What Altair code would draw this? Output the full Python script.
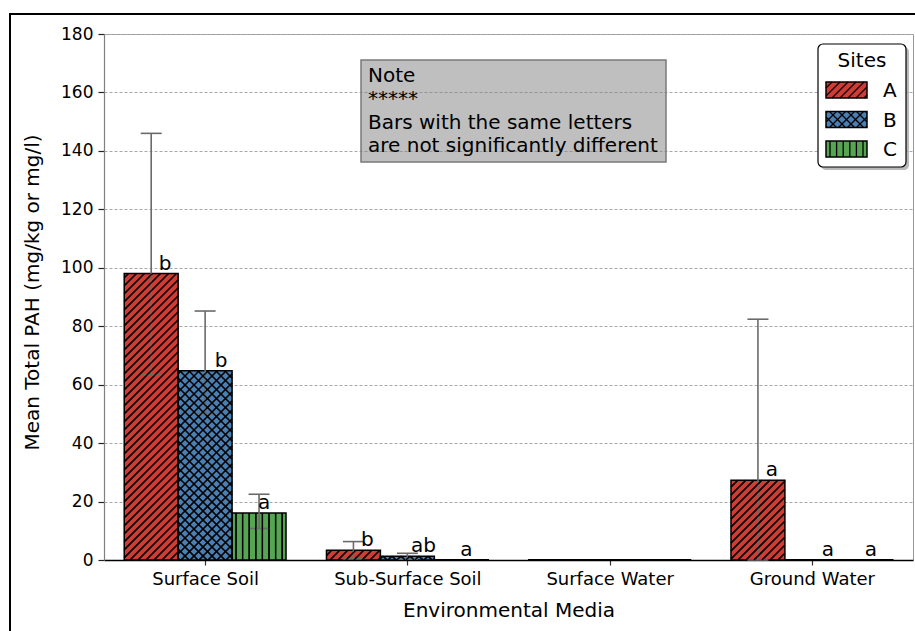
import json
import math

import altair as alt
import pandas as pd

# ---------------------------------------------------------------- data
categories = ["Surface Soil", "Sub-Surface Soil", "Surface Water", "Ground Water"]
sites = ["A", "B", "C"]

# mean total PAH (mg/kg or mg/l), one list per site, in category order
mean_a = [98.0, 3.3, 0.05, 27.3]
mean_b = [64.8, 1.3, 0.05, 0.08]
mean_c = [16.1, 0.1, 0.05, 0.08]

# error bar extents (None where no error bar is drawn)
low_a = [63.3, 0.4, None, 0.0]
high_a = [146.0, 6.3, None, 82.4]
low_b = [50.0, 0.3, None, None]
high_b = [85.2, 2.3, None, None]
low_c = [10.8, None, None, None]
high_c = [22.5, None, None, None]

# significance letters
letters_a = ["b", "b", "", "a"]
letters_b = ["b", "ab", "", "a"]
letters_c = ["a", "a", "", "a"]

site_colors = ["#d13b36", "#4a7fb3", "#56a553"]
site_hatch = ["/", "x", "|"]

note_lines = ["Note", "*****", "Bars with the same letters",
              "are not significantly different"]

# ---------------------------------------------------------------- layout
W, H = 809, 526
Y_MAX = 180
PX_X = W / len(categories)      # pixels per category unit
PX_Y = H / Y_MAX                 # pixels per value unit
GROUP = 0.8
BAR = GROUP / len(sites)
CAP = 10.5                       # half width of error caps, px
FONT = "DejaVu Sans"


def to_px_x(d):
    return (d + 0.5) * PX_X


def to_px_y(v):
    return H - v * PX_Y


def from_px_x(px):
    return px / PX_X - 0.5


def from_px_y(py):
    return (H - py) / PX_Y


def hatch_segments(x0, x1, y0, y1, kind):
    """Hatch lines clipped to a pixel rectangle (y grows downward)."""
    segs = []
    if kind in ("/", "x"):
        step = 8.0 if kind == "/" else 9.0
        for k in range(math.floor((x0 + y0) / step), math.ceil((x1 + y1) / step) + 1):
            c = k * step
            xa, xb = max(x0, c - y1), min(x1, c - y0)
            if xb - xa > 0.4:
                segs.append((xa, c - xa, xb, c - xb))
    if kind == "x":
        step = 9.0
        for k in range(math.floor((x0 - y1) / step), math.ceil((x1 - y0) / step) + 1):
            c = k * step
            xa, xb = max(x0, y0 + c), min(x1, y1 + c)
            if xb - xa > 0.4:
                segs.append((xa, xa - c, xb, xb - c))
    if kind == "|":
        step = 6.6
        for k in range(math.ceil(x0 / step), math.floor(x1 / step) + 1):
            X = k * step
            if x0 + 0.8 < X < x1 - 0.8 and y1 - y0 > 0.5:
                segs.append((X, y0, X, y1))
    return segs


means = [mean_a, mean_b, mean_c]
lows = [low_a, low_b, low_c]
highs = [high_a, high_b, high_c]
letters = [letters_a, letters_b, letters_c]
letter_dx = {"A": 14, "B": 16, "C": 5}

bar_rows, err_rows, txt_rows = [], [], []
for ci, cat in enumerate(categories):
    for si, site in enumerate(sites):
        left = ci - GROUP / 2 + si * BAR
        right = left + BAR
        xc = (left + right) / 2
        v = means[si][ci]
        bar_rows.append(dict(site=site, x0=left, x1=right, top=v, base=0.0))
        lo, hi = lows[si][ci], highs[si][ci]
        if lo is not None and hi is not None:
            err_rows.append(dict(xc=xc, lo=lo, hi=hi,
                                 cl=xc - CAP / PX_X, cr=xc + CAP / PX_X))
        if letters[si][ci]:
            txt_rows.append(dict(x=xc + letter_dx[site] / PX_X, y=v,
                                 t=letters[si][ci]))

# legend swatches live in the same coordinate system as the bars
LEG_X0, LEG_X1 = 722, 763
leg_centres = [56, 85.5, 115]
leg_rows, leg_txt = [], []
for si, site in enumerate(sites):
    yc = leg_centres[si]
    leg_rows.append(dict(site=site, x0=from_px_x(LEG_X0), x1=from_px_x(LEG_X1),
                         top=from_px_y(yc - 8), base=from_px_y(yc + 8)))
    leg_txt.append(dict(x=from_px_x(779), y=from_px_y(yc + 7.2), t=site))

rects = pd.DataFrame(bar_rows + leg_rows)

hatch_rows = []
for r in rects.itertuples():
    kind = site_hatch[sites.index(r.site)]
    for xa, ya, xb, yb in hatch_segments(to_px_x(r.x0), to_px_x(r.x1),
                                         to_px_y(r.top), to_px_y(r.base), kind):
        hatch_rows.append(dict(xa=from_px_x(xa), ya=from_px_y(ya),
                               xb=from_px_x(xb), yb=from_px_y(yb)))
hatch = pd.DataFrame(hatch_rows)
errs = pd.DataFrame(err_rows)
labels = pd.DataFrame(txt_rows)
legend_labels = pd.DataFrame(leg_txt)

# ---------------------------------------------------------------- scales / axes
x_scale = alt.Scale(domain=[-0.5, len(categories) - 0.5], nice=False, zero=False)
y_scale = alt.Scale(domain=[0, Y_MAX], nice=False)
x_axis = alt.Axis(
    title="Environmental Media", values=list(range(len(categories))),
    labelExpr=f"{json.dumps(categories)}[datum.value]", grid=False,
    tickSize=5, tickColor="#333333", tickWidth=1.2,
    labelFontSize=18, labelPadding=5, labelFlush=False, labelOverlap=False,
    domainColor="black", domainWidth=1.3, titleFontSize=20, titlePadding=12,
)
y_axis = alt.Axis(
    title="Mean Total PAH (mg/kg or mg/l)", values=list(range(0, Y_MAX + 1, 20)),
    grid=True, gridDash=[3, 2], gridColor="#a8a8a8", gridWidth=1,
    tickSize=6, tickColor="#222222", tickWidth=1.2, labelFontSize=17,
    labelPadding=5, domainColor="#808080", domainWidth=1.2,
    titleFontSize=20, titleX=-66, titleY=258, titleBaseline="alphabetic",
)


def X(field):
    return alt.X(field, type="quantitative", scale=x_scale, axis=x_axis)


def Y(field):
    return alt.Y(field, type="quantitative", scale=y_scale, axis=y_axis)


color = alt.Color("site:N", scale=alt.Scale(domain=sites, range=site_colors),
                  legend=None)

# ---------------------------------------------------------------- layers
frame = alt.Chart(pd.DataFrame({"k": [0]})).mark_rect(
    fillOpacity=0, stroke="black", strokeWidth=2
).encode(x=alt.value(-94), x2=alt.value(860), y=alt.value(-20), y2=alt.value(700))

fills = alt.Chart(rects).mark_rect().encode(
    x=X("x0"), x2="x1", y=Y("top"), y2="base", color=color)

hatches = alt.Chart(hatch).mark_rule(color="black", strokeWidth=1.3).encode(
    x=X("xa"), x2="xb", y=Y("ya"), y2="yb")

outlines = alt.Chart(rects).mark_rect(
    fillOpacity=0, stroke="black", strokeWidth=1.5).encode(
    x=X("x0"), x2="x1", y=Y("top"), y2="base")

err_color = "#6a6a6a"
err_line = alt.Chart(errs).mark_rule(color=err_color, strokeWidth=1.6).encode(
    x=X("xc"), y=Y("lo"), y2="hi")
err_top = alt.Chart(errs).mark_rule(color=err_color, strokeWidth=1.6).encode(
    x=X("cl"), x2="cr", y=Y("hi"))
err_bot = alt.Chart(errs).mark_rule(color=err_color, strokeWidth=1.6).encode(
    x=X("cl"), x2="cr", y=Y("lo"))

letter_text = alt.Chart(labels).mark_text(
    font=FONT, fontSize=20, color="black", align="center",
    baseline="alphabetic", dy=-4).encode(x=X("x"), y=Y("y"), text="t:N")

note_box = alt.Chart(pd.DataFrame({"k": [0]})).mark_rect(
    fill="#808080", fillOpacity=0.5, stroke="#7a7a7a", strokeWidth=1.5
).encode(x=alt.value(257), x2=alt.value(562), y=alt.value(26), y2=alt.value(128))
note_text = alt.Chart(pd.DataFrame({"k": [0]})).mark_text(
    text=note_lines, font=FONT, fontSize=20, lineHeight=23.3, align="left",
    baseline="alphabetic", color="black"
).encode(x=alt.value(264), y=alt.value(48))

leg_shadow = alt.Chart(pd.DataFrame({"k": [0]})).mark_rect(
    fill="#808080", opacity=0.55, cornerRadius=5
).encode(x=alt.value(717), x2=alt.value(805), y=alt.value(13), y2=alt.value(136))
leg_box = alt.Chart(pd.DataFrame({"k": [0]})).mark_rect(
    fill="white", stroke="black", strokeWidth=1.2, cornerRadius=5
).encode(x=alt.value(714), x2=alt.value(802), y=alt.value(10), y2=alt.value(133))
leg_title = alt.Chart(pd.DataFrame({"k": [0]})).mark_text(
    text="Sites", font=FONT, fontSize=20, align="center", baseline="alphabetic",
    color="black").encode(x=alt.value(758), y=alt.value(33))
leg_labels = alt.Chart(legend_labels).mark_text(
    font=FONT, fontSize=20, align="left", baseline="alphabetic", color="black"
).encode(x=X("x"), y=Y("y"), text="t:N")

chart = alt.layer(
    fills, hatches, outlines, err_line, err_top, err_bot, letter_text,
    note_box, note_text, leg_shadow, leg_box,
    fills.transform_filter("datum.base > 0"),
    hatches, outlines.transform_filter("datum.base > 0"),
    leg_title, leg_labels, frame,
).properties(
    width=W, height=H,
    padding={"left": 104, "top": 34, "right": 2, "bottom": 71},
    autosize=alt.AutoSizeParams(type="none"),
).configure(
    font=FONT,
).configure_axis(
    labelFont=FONT, titleFont=FONT, labelColor="black", titleColor="black",
    titleFontWeight="normal",
).configure_view(
    stroke="#9a9a9a", strokeWidth=1,
)

chart.save("out.html", embed_options={"renderer": "svg", "actions": False})
